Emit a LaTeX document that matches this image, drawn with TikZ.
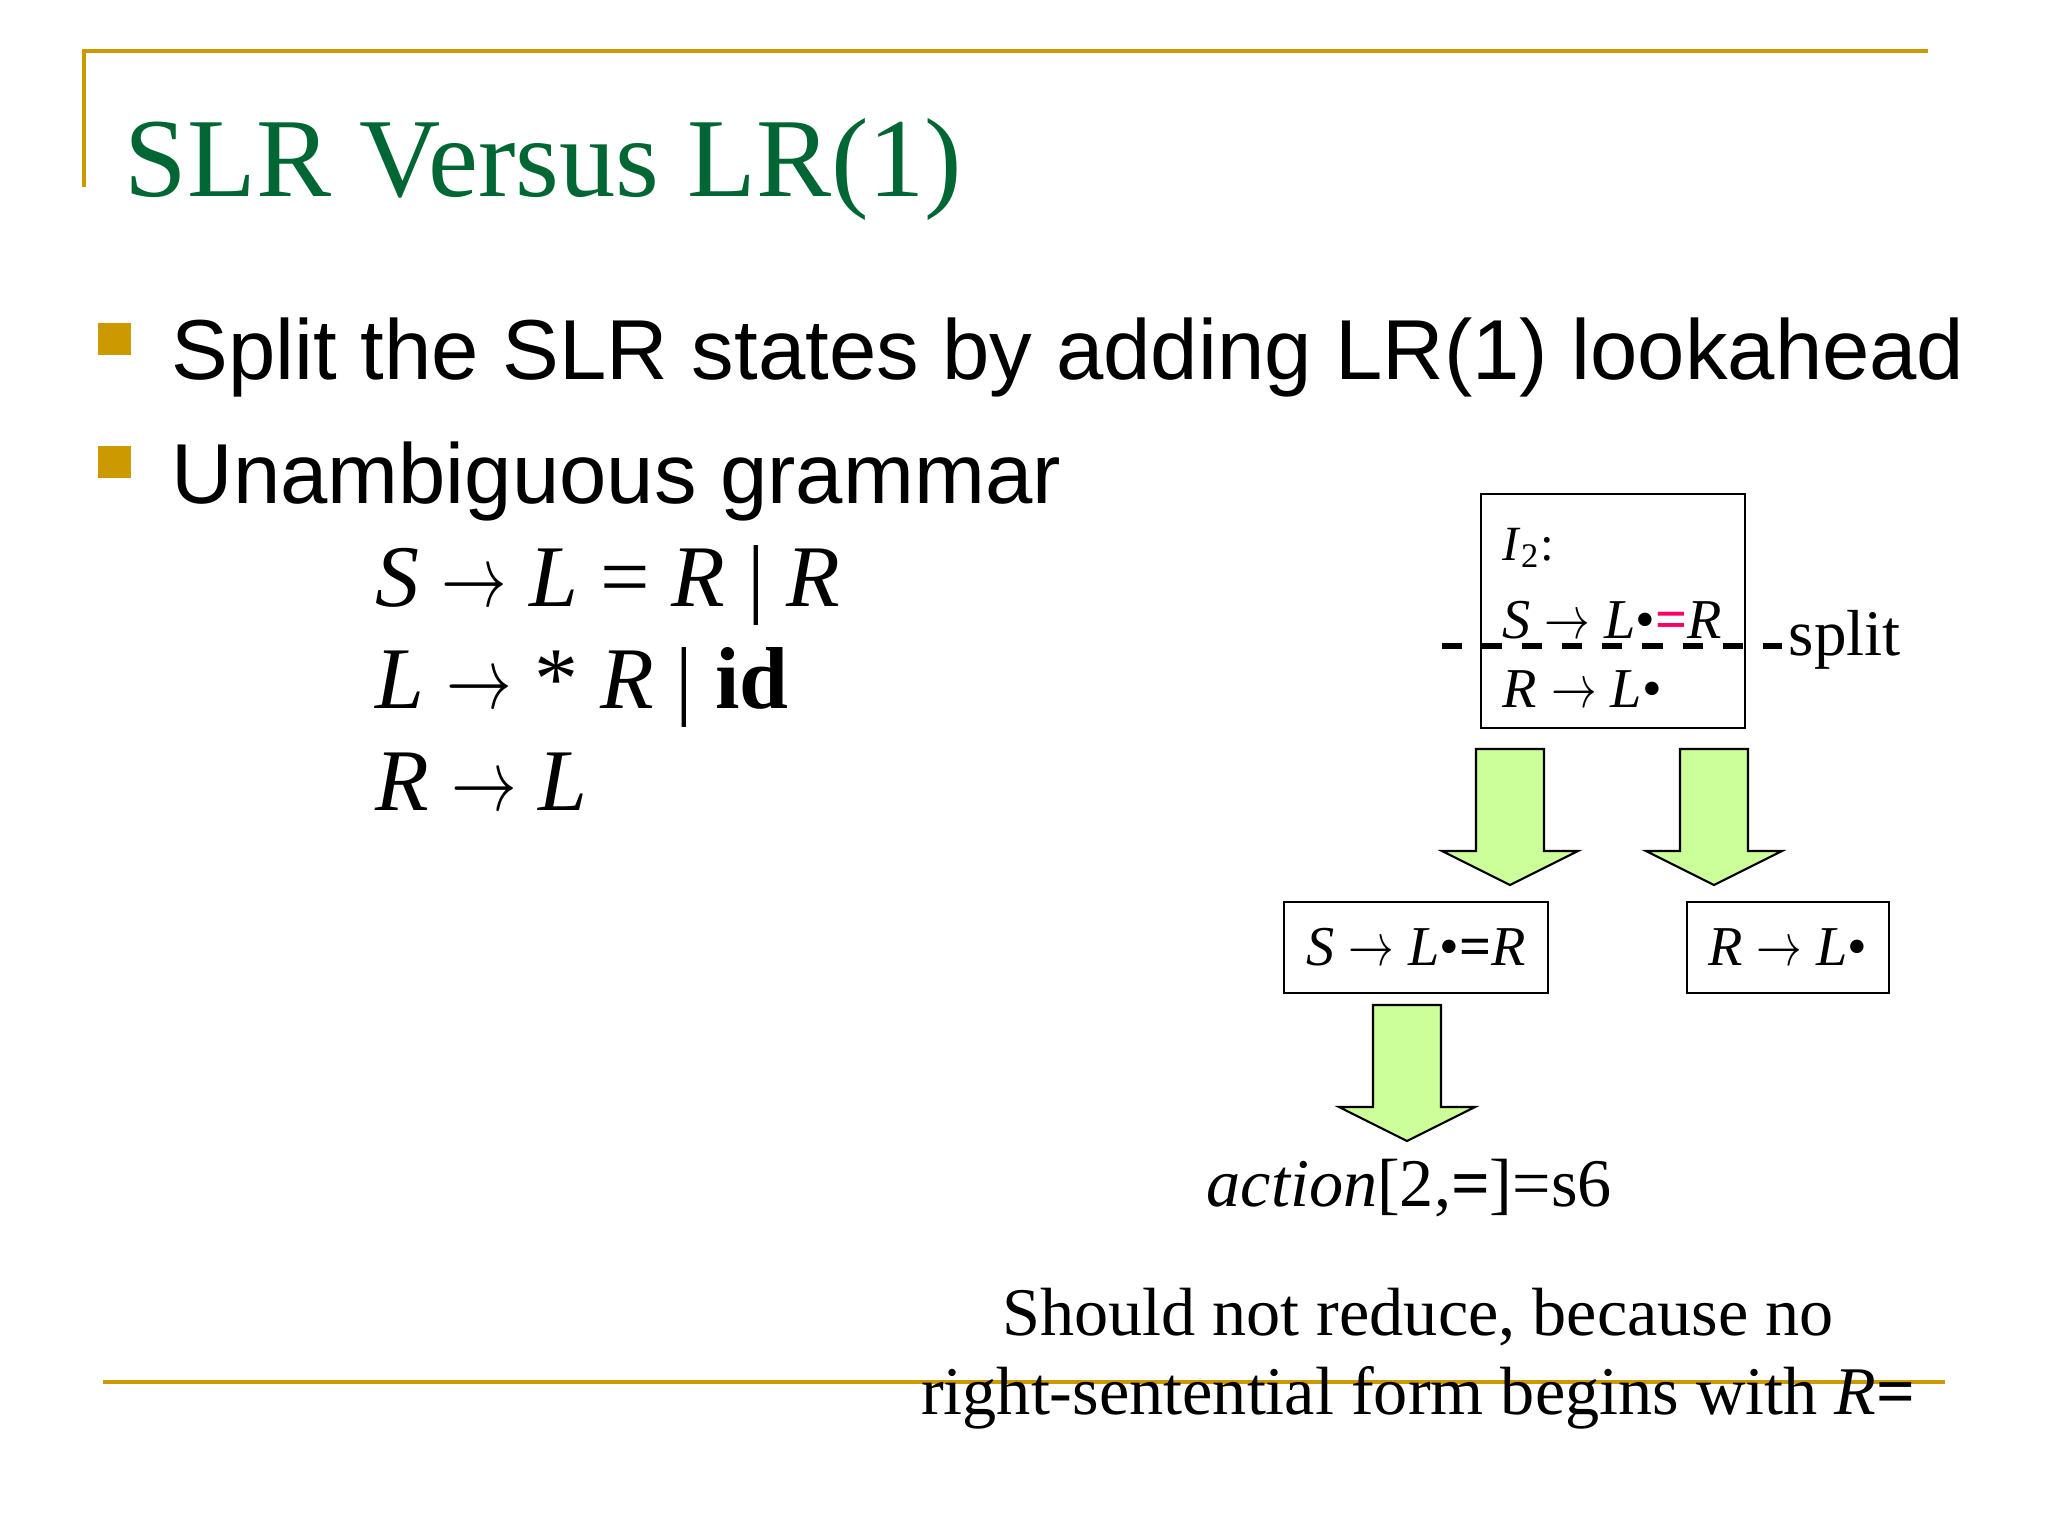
\documentclass[tikz,border=0pt]{standalone}
\usepackage{graphicx}
\usepackage{fontspec}
\setmainfont{Liberation Serif}
\newfontfamily\arialfont{Liberation Sans}
\usetikzlibrary{positioning}

\definecolor{slidegreen}{RGB}{0,102,51}
\definecolor{slidegold}{RGB}{204,153,0}
\definecolor{arrowgreen}{RGB}{204,255,153}
\definecolor{eqpink}{RGB}{255,0,102}

\newcommand{\prodarrow}{\scalebox{0.75}[1]{$\rightarrow$}}

\tikzset{
  goldline/.style={slidegold, line width=1.15pt},
  txt/.style={inner sep=0pt, anchor=base west},
  statebox/.style={draw, line width=0.5pt, inner sep=0pt},
  downarrow/.pic={
    \filldraw[fill=arrowgreen, draw=black, line width=0.6pt, line join=miter]
      (-34,0) -- (34,0) -- (34,102) -- (68,102) -- (0,136) -- (-68,102) -- (-34,102) -- cycle;
  }
}

\begin{document}
\begin{tikzpicture}[x=0.01cm, y=-0.01cm]

            \useasboundingbox (0,0) rectangle (2048,1536);

            % slide frame
            \draw[goldline] (84,187) -- (84,51) -- (1928,51);
            \draw[goldline] (103,1382) -- (1945,1382);

            \node[txt, slidegreen, font=\fontsize{32}{38}\selectfont] (title) at (124,196) {SLR Versus LR(1)};

            % bullets
            \fill[slidegold] (98,323) rectangle (131,355);
            \fill[slidegold] (98,446) rectangle (131,478);
            \node[txt, font=\arialfont\fontsize{24.2}{29}\selectfont] (split) at (171,379) {Split the SLR states by adding LR(1) lookahead};
            \node[txt, font=\arialfont\fontsize{24.2}{29}\selectfont] (gram) at (171,503) {Unambiguous grammar};

            % grammar
            \node[txt, font=\fontsize{25}{30}\selectfont] (g1) at (375,606) {\textit{S} \prodarrow{} \textit{L} = \textit{R} | \textit{R}};
            \node[txt, font=\fontsize{25}{30}\selectfont] (g2) at (375,708) {\textit{L} \prodarrow{} * \textit{R} | \textbf{id}};
            \node[txt, font=\fontsize{25}{30}\selectfont] (g3) at (375,810) {\textit{R} \prodarrow{} \textit{L}};

            % state I2 and its split
            \node[statebox, minimum width=2.64cm, minimum height=2.34cm] (i2) at (1613,611) {};
            \node[txt, font=\fontsize{14}{16}\selectfont] (i2name) at (1502,560) {\textit{I}\textsubscript{2}:};
            \node[txt, font=\fontsize{16}{19}\selectfont] (i2a) at (1502,638) {\textit{S} \prodarrow{} \textit{L}\textbullet\textcolor{eqpink}{\textbf{=}}\textit{R}};
            \node[txt, font=\fontsize{16}{19}\selectfont] (i2b) at (1502,707) {\textit{R} \prodarrow{} \textit{L}\textbullet};
            \coordinate (cutl) at (1442,646);
            \coordinate (cutr) at (1782,646);
            \draw[line width=1.6pt, dash pattern=on 5.7pt off 5.7pt] (cutl) -- (cutr);
            \node[txt, font=\fontsize{18.5}{22}\selectfont] (cut) at (1788,655) {split};

            \pic at (1510,749) {downarrow};
            \pic at (1714,749) {downarrow};

            \node[statebox, minimum width=2.64cm, minimum height=0.91cm, font=\fontsize{16}{19}\selectfont] (shift) at (1416,947.5) {\textit{S} \prodarrow{} \textit{L}\textbullet\textbf{=}\textit{R}};
            \node[statebox, minimum width=2.02cm, minimum height=0.91cm, font=\fontsize{16}{19}\selectfont] (reduce) at (1788,947.5) {\textit{R} \prodarrow{} \textit{L}\textbullet};

            \pic at (1407,1005) {downarrow};

            \node[txt, font=\fontsize{19.4}{23}\selectfont] (action) at (1206,1206) {\textit{action}[2,\textbf{=}]=s6};

            \node[inner sep=0pt, anchor=base, font=\fontsize{19.4}{23}\selectfont] (note1) at (1418,1335) {Should not reduce, because no};
            \node[inner sep=0pt, anchor=base, font=\fontsize{19.4}{23}\selectfont] (note2) at (1418,1414) {right-sentential form begins with \textit{R}\textbf{=}};

        \end{tikzpicture}
\end{document}
